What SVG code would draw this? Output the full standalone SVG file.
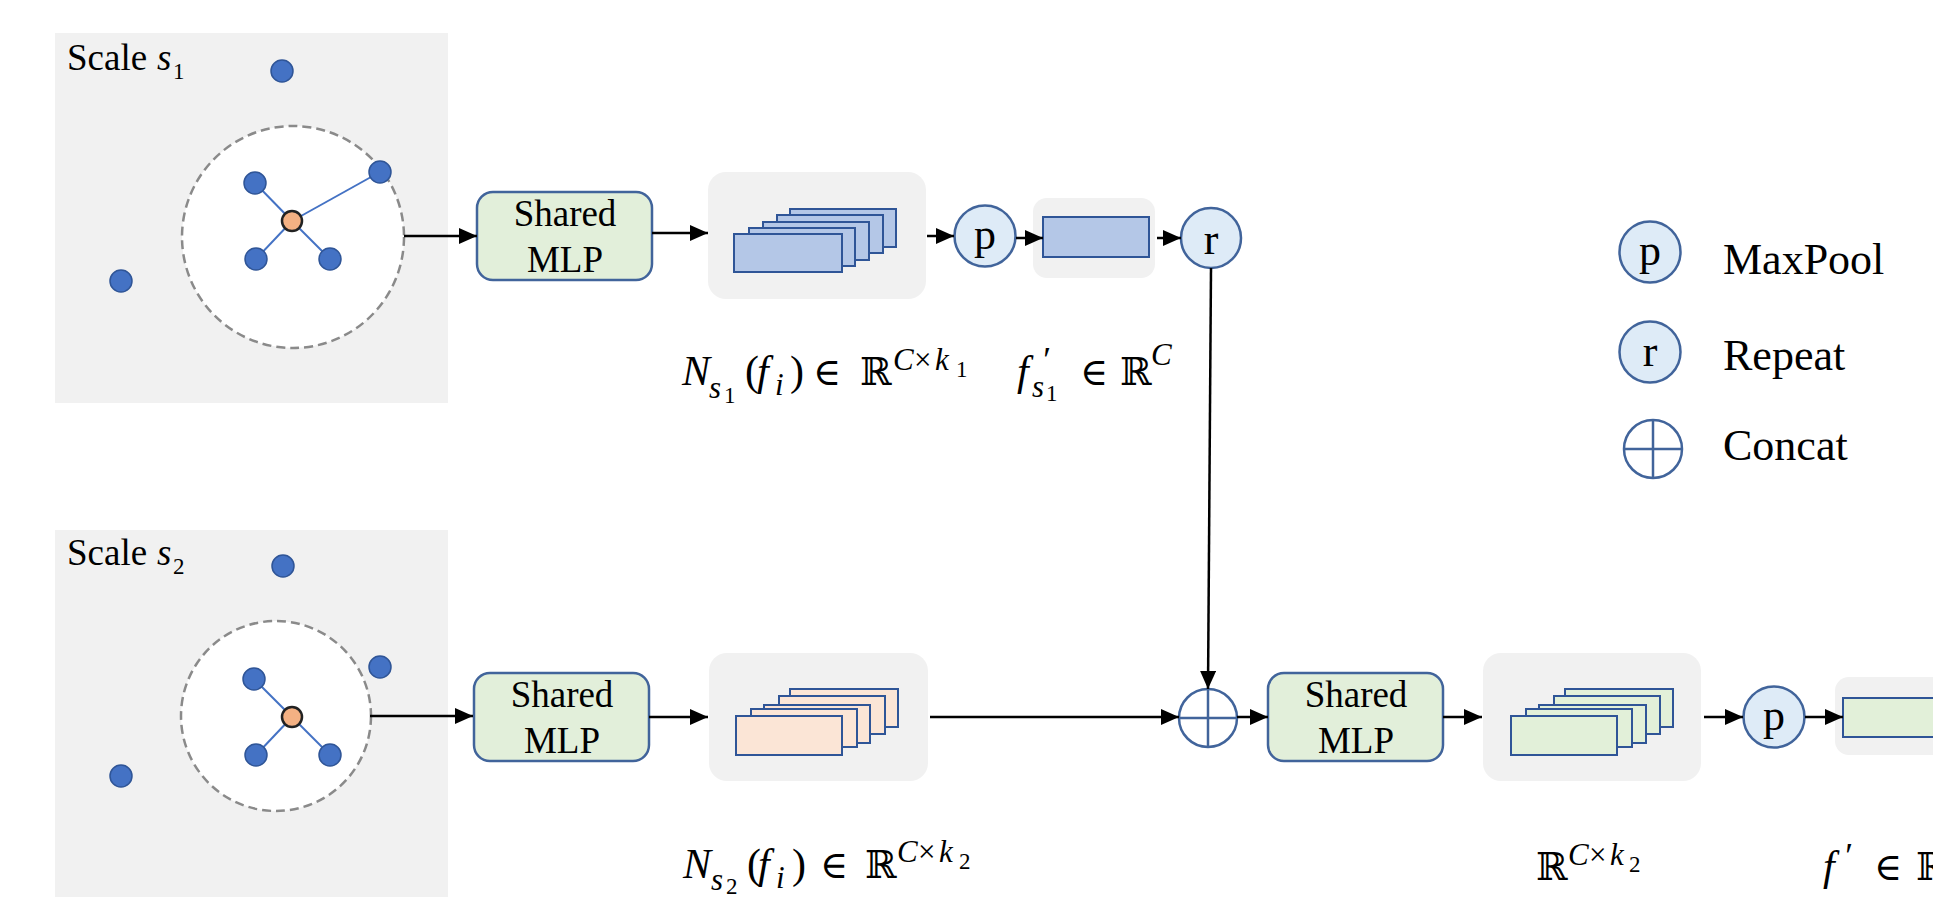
<svg xmlns="http://www.w3.org/2000/svg" width="1933" height="897" viewBox="0 0 1933 897">
<defs>
<marker id="ah" markerUnits="userSpaceOnUse" markerWidth="18" markerHeight="16" refX="18" refY="8" orient="auto"><path d="M0,0 L18,8 L0,16 z" fill="#000"/></marker>
<style>
.panel{fill:#f1f1f1}
.ring{fill:#fff;stroke:#8a8a8a;stroke-width:2.5;stroke-dasharray:9 5}
.dot{fill:#4472c4;stroke:#2f5597;stroke-width:1.5}
.ctr{fill:#f4b183;stroke:#222;stroke-width:2.5}
.edge{stroke:#4472c4;stroke-width:2}
.mlp{fill:#e2efda;stroke:#41649b;stroke-width:2.5}
.gbox{fill:#f1f1f1}
.fb{fill:#b4c7e7;stroke:#2f5597;stroke-width:2}
.fp{fill:#fbe5d6;stroke:#2f5597;stroke-width:2}
.fg{fill:#e2f0d9;stroke:#2f5597;stroke-width:2}
.op{fill:#deebf7;stroke:#41649b;stroke-width:2.5}
.cc{fill:#fff;stroke:#41649b;stroke-width:2.5}
.txt{font-family:"Liberation Serif","Times New Roman",serif;fill:#000}
.lbl{font-size:37px}
.leg{font-size:44px}
.opl{font-size:44px;text-anchor:middle}
.m{font-family:"Liberation Serif","Times New Roman",serif;font-size:42px;fill:#000}
.it{font-style:italic}
.sb{font-size:31px}
.ss{font-size:23px}
.pr{font-size:36px}
.dj{font-family:"DejaVu Serif",serif;font-size:38px}
.conn line{stroke:#000;stroke-width:2.5;marker-end:url(#ah)}
</style>
</defs>

<g id="scale1">
<rect class="panel" x="55" y="33" width="393" height="370"/>
<circle class="ring" cx="293" cy="237" r="111"/>
<line class="edge" x1="292" y1="221" x2="255" y2="183"/>
<line class="edge" x1="292" y1="221" x2="380" y2="172"/>
<line class="edge" x1="292" y1="221" x2="256" y2="259"/>
<line class="edge" x1="292" y1="221" x2="330" y2="259"/>
<circle class="dot" cx="282" cy="71" r="11"/>
<circle class="dot" cx="255" cy="183" r="11"/>
<circle class="dot" cx="380" cy="172" r="11"/>
<circle class="dot" cx="256" cy="259" r="11"/>
<circle class="dot" cx="330" cy="259" r="11"/>
<circle class="dot" cx="121" cy="281" r="11"/>
<circle class="ctr" cx="292" cy="221" r="10"/>
<text class="txt lbl" x="67" y="70">Scale <tspan class="it" x="157">s</tspan><tspan class="ss" x="173" y="79">1</tspan></text>
</g>

<g id="scale2">
<rect class="panel" x="55" y="530" width="393" height="367"/>
<circle class="ring" cx="276" cy="716" r="95"/>
<line class="edge" x1="292" y1="717" x2="254" y2="679"/>
<line class="edge" x1="292" y1="717" x2="256" y2="755"/>
<line class="edge" x1="292" y1="717" x2="330" y2="755"/>
<circle class="dot" cx="283" cy="566" r="11"/>
<circle class="dot" cx="254" cy="679" r="11"/>
<circle class="dot" cx="380" cy="667" r="11"/>
<circle class="dot" cx="256" cy="755" r="11"/>
<circle class="dot" cx="330" cy="755" r="11"/>
<circle class="dot" cx="121" cy="776" r="11"/>
<circle class="ctr" cx="292" cy="717" r="10"/>
<text class="txt lbl" x="67" y="565">Scale <tspan class="it" x="157">s</tspan><tspan class="ss" x="173" y="574">2</tspan></text>
</g>

<g id="mlp1">
<rect class="mlp" x="477" y="192" width="175" height="88" rx="16"/>
<text class="txt lbl" text-anchor="middle" x="565" y="226">Shared</text>
<text class="txt lbl" text-anchor="middle" x="565" y="272">MLP</text>
</g>
<g id="mlp2">
<rect class="mlp" x="474" y="673" width="175" height="88" rx="16"/>
<text class="txt lbl" text-anchor="middle" x="562" y="707">Shared</text>
<text class="txt lbl" text-anchor="middle" x="562" y="753">MLP</text>
</g>
<g id="mlp3">
<rect class="mlp" x="1268" y="673" width="175" height="88" rx="16"/>
<text class="txt lbl" text-anchor="middle" x="1356" y="707">Shared</text>
<text class="txt lbl" text-anchor="middle" x="1356" y="753">MLP</text>
</g>

<g id="feat1">
<rect class="gbox" x="708" y="172" width="218" height="127" rx="18"/>
<rect class="fb" x="790" y="209" width="106" height="38"/>
<rect class="fb" x="777" y="215" width="106" height="38"/>
<rect class="fb" x="763" y="222" width="106" height="38"/>
<rect class="fb" x="749" y="228" width="106" height="38"/>
<rect class="fb" x="734" y="234" width="108" height="38"/>
</g>
<g id="feat2">
<rect class="gbox" x="709" y="653" width="219" height="128" rx="18"/>
<rect class="fp" x="790" y="689" width="108" height="38"/>
<rect class="fp" x="779" y="696" width="106" height="38"/>
<rect class="fp" x="764" y="705" width="106" height="38"/>
<rect class="fp" x="751" y="709" width="106" height="38"/>
<rect class="fp" x="736" y="716" width="106" height="39"/>
</g>
<g id="feat3">
<rect class="gbox" x="1483" y="653" width="218" height="128" rx="18"/>
<rect class="fg" x="1565" y="689" width="108" height="38"/>
<rect class="fg" x="1554" y="696" width="106" height="38"/>
<rect class="fg" x="1539" y="705" width="107" height="38"/>
<rect class="fg" x="1526" y="709" width="106" height="38"/>
<rect class="fg" x="1511" y="716" width="106" height="39"/>
</g>

<g id="pool1">
<circle class="op" cx="985" cy="236" r="30.5"/>
<text class="txt opl" x="985" y="249">p</text>
</g>
<g id="vec1">
<rect class="gbox" x="1033" y="198" width="122" height="80" rx="14"/>
<rect class="fb" x="1043" y="217" width="106" height="40"/>
</g>
<g id="repeat1">
<circle class="op" cx="1211" cy="238" r="30"/>
<text class="txt opl" x="1211" y="254">r</text>
</g>
<g id="concat">
<circle class="cc" cx="1208" cy="718" r="29"/>
<line x1="1179" y1="718" x2="1237" y2="718" stroke="#41649b" stroke-width="2.5"/>
<line x1="1208" y1="689" x2="1208" y2="747" stroke="#41649b" stroke-width="2.5"/>
</g>
<g id="pool2">
<circle class="op" cx="1774" cy="717" r="30.5"/>
<text class="txt opl" x="1774" y="730">p</text>
</g>
<g id="vec2">
<rect class="gbox" x="1835" y="677" width="120" height="78" rx="14"/>
<rect class="fg" x="1843" y="698" width="110" height="39"/>
</g>

<g id="legend">
<circle class="op" cx="1650" cy="252" r="30.5"/>
<text class="txt opl" x="1650" y="265">p</text>
<text class="txt leg" x="1723" y="274">MaxPool</text>
<circle class="op" cx="1650" cy="352" r="30.5"/>
<text class="txt opl" x="1650" y="366">r</text>
<text class="txt leg" x="1723" y="370">Repeat</text>
<circle class="cc" cx="1653" cy="449" r="29"/>
<line x1="1624" y1="449" x2="1682" y2="449" stroke="#41649b" stroke-width="2.5"/>
<line x1="1653" y1="420" x2="1653" y2="478" stroke="#41649b" stroke-width="2.5"/>
<text class="txt leg" x="1723" y="460">Concat</text>
</g>

<g id="labels">
<text class="m"><tspan class="it" x="682" y="385">N</tspan><tspan class="it sb" x="709" y="398">s</tspan><tspan class="ss" x="724" y="403">1</tspan><tspan x="745" y="385">(</tspan><tspan class="it" x="757" y="385">f</tspan><tspan class="it sb" x="775" y="395">i</tspan><tspan x="790" y="385">)</tspan><tspan class="dj" x="813" y="385">∈</tspan><tspan class="dj" x="860" y="385">ℝ</tspan><tspan class="it sb" x="893" y="370">C</tspan><tspan class="sb" x="914" y="370">×</tspan><tspan class="it sb" x="935" y="370">k</tspan><tspan class="ss" x="956" y="377">1</tspan></text>
<text class="m"><tspan class="it" x="1017" y="385">f</tspan><tspan class="it pr" x="1041" y="372">′</tspan><tspan class="it sb" x="1032" y="397">s</tspan><tspan class="ss" x="1046" y="401">1</tspan><tspan class="dj" x="1080" y="385">∈</tspan><tspan class="dj" x="1120" y="385">ℝ</tspan><tspan class="it sb" x="1151" y="365">C</tspan></text>
<text class="m"><tspan class="it" x="683" y="878">N</tspan><tspan class="it sb" x="711" y="890">s</tspan><tspan class="ss" x="726" y="894">2</tspan><tspan x="747" y="878">(</tspan><tspan class="it" x="758" y="878">f</tspan><tspan class="it sb" x="776" y="888">i</tspan><tspan x="792" y="878">)</tspan><tspan class="dj" x="820" y="878">∈</tspan><tspan class="dj" x="865" y="878">ℝ</tspan><tspan class="it sb" x="897" y="862">C</tspan><tspan class="sb" x="918" y="862">×</tspan><tspan class="it sb" x="939" y="862">k</tspan><tspan class="ss" x="959" y="869">2</tspan></text>
<text class="m"><tspan class="dj" x="1536" y="880">ℝ</tspan><tspan class="it sb" x="1568" y="865">C</tspan><tspan class="sb" x="1589" y="865">×</tspan><tspan class="it sb" x="1610" y="865">k</tspan><tspan class="ss" x="1629" y="872">2</tspan></text>
<text class="m"><tspan class="it" x="1823" y="880">f</tspan><tspan class="it pr" x="1843" y="868">′</tspan><tspan class="dj" x="1874" y="880">∈</tspan><tspan class="dj" x="1916" y="880">ℝ</tspan></text>
</g>

<g id="connectors" class="conn">
<line x1="404" y1="236" x2="477" y2="236"/>
<line x1="652" y1="233" x2="708" y2="233"/>
<line x1="927" y1="236" x2="954" y2="236"/>
<line x1="1016" y1="238" x2="1043" y2="238"/>
<line x1="1157" y1="238" x2="1181" y2="238"/>
<line x1="1211" y1="268" x2="1208" y2="689"/>
<line x1="370" y1="716" x2="473" y2="716"/>
<line x1="649" y1="717" x2="708" y2="717"/>
<line x1="930" y1="717" x2="1179" y2="717"/>
<line x1="1237" y1="717" x2="1268" y2="717"/>
<line x1="1443" y1="717" x2="1482" y2="717"/>
<line x1="1704" y1="717" x2="1743" y2="717"/>
<line x1="1805" y1="717" x2="1843" y2="717"/>
</g>
</svg>
